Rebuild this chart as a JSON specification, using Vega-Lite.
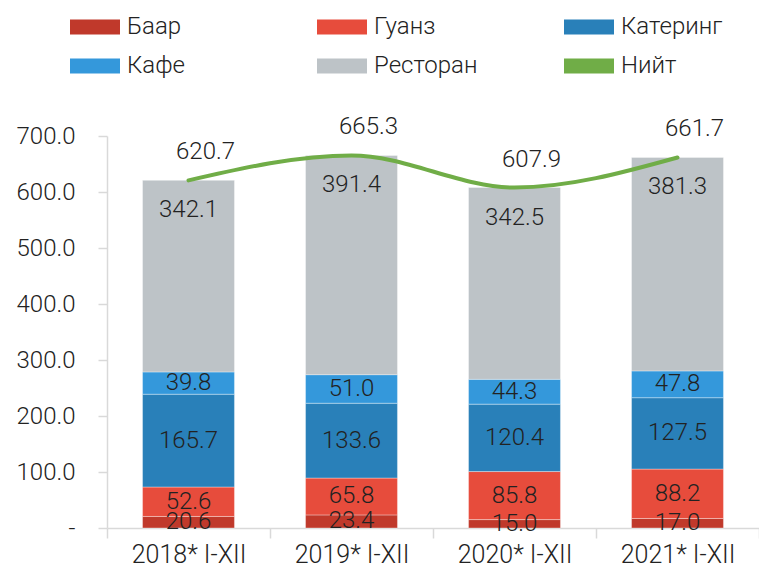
{
  "$schema": "https://vega.github.io/schema/vega-lite/v6.json",
  "autosize": "none",
  "width": 652,
  "height": 392,
  "padding": {"left": 107, "top": 136, "right": 0, "bottom": 46},
  "background": "white",
  "config": {"view": {"stroke": null}, "font": "Roboto"},
  "datasets": {
    "parts": [
      {"year": "2018* I-XII", "cat": "Баар", "value": 20.6},
      {"year": "2018* I-XII", "cat": "Гуанз", "value": 52.6},
      {"year": "2018* I-XII", "cat": "Катеринг", "value": 165.7},
      {"year": "2018* I-XII", "cat": "Кафе", "value": 39.8},
      {"year": "2018* I-XII", "cat": "Ресторан", "value": 342.1},
      {"year": "2019* I-XII", "cat": "Баар", "value": 23.4},
      {"year": "2019* I-XII", "cat": "Гуанз", "value": 65.8},
      {"year": "2019* I-XII", "cat": "Катеринг", "value": 133.6},
      {"year": "2019* I-XII", "cat": "Кафе", "value": 51.0},
      {"year": "2019* I-XII", "cat": "Ресторан", "value": 391.4},
      {"year": "2020* I-XII", "cat": "Баар", "value": 15.0},
      {"year": "2020* I-XII", "cat": "Гуанз", "value": 85.8},
      {"year": "2020* I-XII", "cat": "Катеринг", "value": 120.4},
      {"year": "2020* I-XII", "cat": "Кафе", "value": 44.3},
      {"year": "2020* I-XII", "cat": "Ресторан", "value": 342.5},
      {"year": "2021* I-XII", "cat": "Баар", "value": 17.0},
      {"year": "2021* I-XII", "cat": "Гуанз", "value": 88.2},
      {"year": "2021* I-XII", "cat": "Катеринг", "value": 127.5},
      {"year": "2021* I-XII", "cat": "Кафе", "value": 47.8},
      {"year": "2021* I-XII", "cat": "Ресторан", "value": 381.3}
    ],
    "totals": [
      {"year": "2018* I-XII", "total": 620.7},
      {"year": "2019* I-XII", "total": 665.3},
      {"year": "2020* I-XII", "total": 607.9},
      {"year": "2021* I-XII", "total": 661.7}
    ]
  },
  "encoding": {
    "x": {
      "field": "year",
      "type": "nominal",
      "sort": null,
      "scale": {"paddingInner": 0, "paddingOuter": 0},
      "axis": {
        "title": null,
        "labelAngle": 0,
        "labelFont": "Roboto",
        "labelFontWeight": 300,
        "labelFontSize": 25,
        "labelColor": "#222222",
        "labelPadding": 4,
        "tickBand": "extent",
        "tickSize": 10,
        "tickColor": "#d9d9d9",
        "tickWidth": 1.5,
        "domainColor": "#d9d9d9",
        "domainWidth": 1.5
      }
    }
  },
  "layer": [
    {
      "data": {"name": "parts"},
      "transform": [
        {"stack": "value", "groupby": ["year"], "sort": [{"field": "cat", "order": "ascending"}], "as": ["y0", "y1"]}
      ],
      "mark": {"type": "bar", "width": {"band": 0.564}, "stroke": "#ffffff", "strokeOpacity": 0.35, "strokeWidth": 1},
      "encoding": {
        "y": {
          "field": "y1",
          "type": "quantitative",
          "scale": {"domain": [0, 700], "nice": false},
          "axis": {
            "title": null,
            "values": [0, 100, 200, 300, 400, 500, 600, 700],
            "labelExpr": "datum.value === 0 ? '-\u00a0\u00a0\u00a0' : format(datum.value, '.1f')",
            "labelFont": "Roboto",
            "labelFontWeight": 300,
            "labelFontSize": 24,
            "labelColor": "#222222",
            "labelPadding": 23,
            "tickSize": 9,
            "tickColor": "#d9d9d9",
            "tickWidth": 1.5,
            "domainColor": "#d9d9d9",
            "domainWidth": 1.5,
            "grid": false
          }
        },
        "y2": {"field": "y0"},
        "color": {
          "field": "cat",
          "type": "nominal",
          "scale": {
            "domain": ["Баар", "Гуанз", "Катеринг", "Кафе", "Ресторан", "Нийт"],
            "range": ["#c0392b", "#e74c3c", "#2980b9", "#3498db", "#bdc3c7", "#70ad47"]
          },
          "legend": {
            "title": null,
            "orient": "none",
            "direction": "horizontal",
            "legendX": -37,
            "legendY": -134,
            "columns": 3,
            "gridAlign": "all",
            "columnPadding": 86,
            "rowPadding": 2,
            "symbolSize": 2500,
            "symbolType": "M-1,-0.3H1V0.3H-1Z",
            "symbolStrokeWidth": 0,
            "labelFont": "Roboto",
            "labelFontWeight": 300,
            "labelFontSize": 24,
            "labelColor": "#222222",
            "labelOffset": 7,
            "encoding": {
              "symbols": {
                "update": {
                  "shape": {"signal": "datum.value === 'Нийт' ? 'M-1,-0.09H1V0.09H-1Z' : 'M-1,-0.3H1V0.3H-1Z'"}
                }
              }
            }
          }
        }
      }
    },
    {
      "data": {"name": "parts"},
      "transform": [
        {"stack": "value", "groupby": ["year"], "sort": [{"field": "cat", "order": "ascending"}], "as": ["y0", "y1"]},
        {"calculate": "(datum.y0 + datum.y1) / 2", "as": "mid"},
        {"filter": "datum.cat !== 'Ресторан'"}
      ],
      "mark": {"type": "text", "font": "Roboto", "fontWeight": 300, "fontSize": 24, "color": "#222222", "baseline": "middle"},
      "encoding": {
        "y": {"field": "mid", "type": "quantitative"},
        "text": {"field": "value", "type": "quantitative", "format": ".1f"}
      }
    },
    {
      "data": {"name": "parts"},
      "transform": [
        {"stack": "value", "groupby": ["year"], "sort": [{"field": "cat", "order": "ascending"}], "as": ["y0", "y1"]},
        {"filter": "datum.cat === 'Ресторан'"}
      ],
      "mark": {"type": "text", "font": "Roboto", "fontWeight": 300, "fontSize": 24, "color": "#222222", "baseline": "middle", "dy": 30},
      "encoding": {
        "y": {"field": "y1", "type": "quantitative"},
        "text": {"field": "value", "type": "quantitative", "format": ".1f"}
      }
    },
    {
      "data": {"name": "totals"},
      "mark": {"type": "line", "interpolate": "monotone", "strokeWidth": 4, "strokeCap": "round"},
      "encoding": {
        "y": {"field": "total", "type": "quantitative"},
        "color": {"datum": "Нийт"}
      }
    },
    {
      "data": {"name": "totals"},
      "mark": {"type": "text", "font": "Roboto", "fontWeight": 300, "fontSize": 24, "color": "#222222", "baseline": "middle", "dx": 17, "dy": -28},
      "encoding": {
        "y": {"field": "total", "type": "quantitative"},
        "text": {"field": "total", "type": "quantitative", "format": ".1f"}
      }
    }
  ]
}
